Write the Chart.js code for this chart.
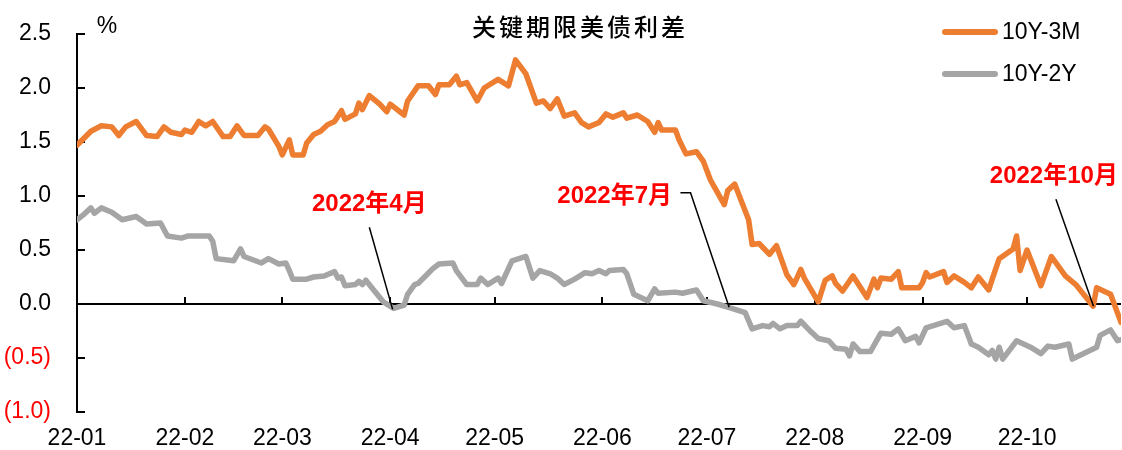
<!DOCTYPE html>
<html>
<head>
<meta charset="UTF-8" />
<title>关键期限美债利差</title>
<script src="https://cdn.jsdelivr.net/npm/chart.js@4/dist/chart.umd.min.js"></script>
<style>
  body { margin: 0; background: #fff; }
  canvas { display: block; }
</style>
</head>
<body>
<canvas id="chart" width="1122" height="450"></canvas>
<script>
// day = days since 2022-01-01
const monthStarts = [0, 31, 59, 90, 120, 151, 181, 212, 243, 273];
const monthLabels = ['22-01', '22-02', '22-03', '22-04', '22-05', '22-06', '22-07', '22-08', '22-09', '22-10'];

// 10Y-3M
const days3m = [
  0, 4, 7, 10, 12, 14, 17, 20, 23, 25,
  27, 30, 31, 33, 35, 37, 39, 42, 44, 46,
  48, 52, 54, 55, 58, 59, 61, 62, 65, 66,
  68, 70, 72, 74, 76, 77, 80, 81, 82, 84,
  87, 89, 90, 94, 95, 98, 101, 103, 104, 107,
  109, 110, 112, 115, 117, 121, 124, 126, 129, 132,
  134, 136, 138, 140, 143, 145, 147, 150, 152, 154,
  157, 158, 161, 164, 166, 167, 168, 172, 173, 175,
  178, 180, 182, 186, 187, 189, 193, 194, 196, 199,
  201, 204, 206, 208, 209, 213, 215, 217, 218, 220,
  223, 227, 229, 230, 231, 234, 236, 237, 242, 243,
  244, 245, 249, 250, 252, 255, 257, 259, 262, 263,
  265, 269, 270, 271, 273, 277, 280, 284, 287, 292,
  293, 297, 300
];
const spread3m = [
  1.47, 1.60, 1.65, 1.64, 1.56, 1.64, 1.69, 1.56, 1.55, 1.64,
  1.59, 1.57, 1.61, 1.59, 1.69, 1.65, 1.69, 1.55, 1.55, 1.65,
  1.56, 1.56, 1.64, 1.62, 1.46, 1.38, 1.52, 1.38, 1.38, 1.49,
  1.57, 1.60, 1.66, 1.69, 1.79, 1.71, 1.76, 1.86, 1.80, 1.93,
  1.85, 1.78, 1.85, 1.75, 1.88, 2.02, 2.02, 1.94, 2.03, 2.03,
  2.11, 2.03, 2.05, 1.88, 2.00, 2.08, 2.02, 2.26, 2.13, 1.86,
  1.88, 1.81, 1.90, 1.74, 1.77, 1.68, 1.64, 1.68, 1.76, 1.73,
  1.77, 1.72, 1.75, 1.69, 1.59, 1.68, 1.61, 1.61, 1.52, 1.39,
  1.41, 1.32, 1.15, 0.92, 1.05, 1.11, 0.78, 0.55, 0.56, 0.46,
  0.54, 0.27, 0.18, 0.32, 0.24, 0.02, 0.22, 0.26, 0.19, 0.12,
  0.26, 0.06, 0.23, 0.15, 0.24, 0.23, 0.30, 0.15, 0.15, 0.20,
  0.29, 0.25, 0.30, 0.20, 0.26, 0.20, 0.15, 0.25, 0.13, 0.23,
  0.42, 0.51, 0.63, 0.31, 0.50, 0.17, 0.44, 0.26, 0.18, -0.02,
  0.15, 0.09, -0.17
];

// 10Y-2Y
const days2y = [
  0, 2, 4, 5, 7, 10, 13, 17, 20, 24,
  26, 30, 32, 38, 39, 40, 45, 47, 48, 53,
  55, 58, 60, 61, 62, 66, 68, 71, 74, 75,
  76, 77, 80, 81, 82, 83, 86, 88, 91, 94,
  95, 97, 98, 102, 104, 108, 109, 112, 115, 116,
  118, 121, 122, 125, 129, 131, 133, 136, 138, 140,
  143, 146, 148, 150, 152, 153, 157, 158, 160, 164,
  166, 167, 172, 174, 178, 180, 184, 187, 192, 194,
  197, 199, 200, 202, 204, 207, 208, 211, 213, 216,
  218, 221, 222, 223, 225, 228, 231, 234, 236, 238,
  241, 242, 244, 247, 250, 252, 255, 257, 259, 262,
  263, 264, 265, 266, 270, 272, 274, 277, 279, 281,
  285, 286, 293, 294, 297, 299, 300
];
const spread2y = [
  0.78, 0.83, 0.89, 0.84, 0.89, 0.85, 0.78, 0.81, 0.74, 0.75,
  0.63, 0.61, 0.63, 0.63, 0.58, 0.42, 0.40, 0.51, 0.44, 0.38,
  0.42, 0.37, 0.38, 0.31, 0.23, 0.23, 0.25, 0.26, 0.30, 0.24,
  0.25, 0.17, 0.18, 0.21, 0.18, 0.22, 0.10, 0.02, -0.04, -0.01,
  0.09, 0.18, 0.19, 0.32, 0.37, 0.38, 0.31, 0.18, 0.18, 0.24,
  0.18, 0.24, 0.19, 0.40, 0.44, 0.24, 0.31, 0.28, 0.24, 0.18,
  0.23, 0.29, 0.28, 0.31, 0.28, 0.31, 0.32, 0.28, 0.09, 0.03,
  0.14, 0.10, 0.11, 0.10, 0.13, 0.03, 0.00, -0.03, -0.08, -0.23,
  -0.20, -0.21, -0.18, -0.23, -0.20, -0.20, -0.16, -0.26, -0.32, -0.34,
  -0.41, -0.42, -0.48, -0.37, -0.44, -0.44, -0.27, -0.28, -0.23, -0.34,
  -0.30, -0.36, -0.22, -0.19, -0.16, -0.22, -0.20, -0.37, -0.40, -0.47,
  -0.43, -0.51, -0.40, -0.51, -0.34, -0.37, -0.40, -0.46, -0.39, -0.40,
  -0.37, -0.51, -0.40, -0.29, -0.24, -0.34, -0.33
];

// callouts in data coords: text centre, leader line points
const callouts = [
  { text: '2022年4月', at: [84, 0.92], line: [[84, 0.71], [90.7, -0.05]] },
  { text: '2022年7月', at: [154.5, 1.00], line: [[173.4, 1.03], [176.3, 1.03], [187.4, -0.03]] },
  { text: '2022年10月', at: [280.7, 1.18], line: [[281.3, 0.97], [292.1, -0.02]] }
];

const ORANGE = '#ED7D31';
const GREY = '#A5A5A5';
const FONT = "'Liberation Sans', Arial, 'Noto Sans CJK SC', sans-serif";

function toPoints(xs, ys) {
  return xs.map((d, i) => ({ x: d, y: ys[i] }));
}

const decor = {
  id: 'decor',
  beforeDatasetsDraw(chart) {
    const { ctx, chartArea: a, scales: { x, y } } = chart;
    const y0 = Math.round(y.getPixelForValue(0));
    ctx.save();
    ctx.strokeStyle = '#000';
    ctx.lineWidth = 2;
    ctx.beginPath();
    ctx.moveTo(a.left, y0);
    ctx.lineTo(a.right, y0);
    // month ticks, pointing up from the zero line
    monthStarts.slice(1).forEach(d => {
      const px = Math.round(x.getPixelForValue(d));
      ctx.moveTo(px, y0);
      ctx.lineTo(px, y0 - 7);
    });
    // y ticks, pointing inside
    y.ticks.forEach(t => {
      const py = Math.round(y.getPixelForValue(t.value));
      ctx.moveTo(a.left, py);
      ctx.lineTo(a.left + 8, py);
    });
    ctx.stroke();
    ctx.restore();
  },
  afterDatasetsDraw(chart) {
    const { ctx, scales: { x, y } } = chart;
    ctx.save();

    // callouts
    callouts.forEach(c => {
      ctx.strokeStyle = '#000';
      ctx.lineWidth = 1.5;
      ctx.beginPath();
      c.line.forEach((p, i) => {
        const px = x.getPixelForValue(p[0]), py = y.getPixelForValue(p[1]);
        if (i === 0) ctx.moveTo(px, py); else ctx.lineTo(px, py);
      });
      ctx.stroke();
      ctx.fillStyle = '#FF0000';
      ctx.font = "bold 24px " + FONT;
      ctx.textAlign = 'center';
      ctx.textBaseline = 'middle';
      ctx.fillText(c.text, x.getPixelForValue(c.at[0]), y.getPixelForValue(c.at[1]));
    });

    // title
    ctx.fillStyle = '#000';
    ctx.font = "500 24px 'Noto Sans CJK SC', sans-serif";
    ctx.textAlign = 'center';
    ctx.textBaseline = 'middle';
    ctx.letterSpacing = '3px';
    ctx.fillText('关键期限美债利差', 580, 27);
    ctx.letterSpacing = '0px';

    // unit
    ctx.font = "23px " + FONT;
    ctx.fillText('%', 107, 27);

    // legend
    chart.data.datasets.forEach((ds, i) => {
      const ly = 32 + i * 42;
      ctx.strokeStyle = ds.borderColor;
      ctx.lineWidth = 6;
      ctx.lineCap = 'round';
      ctx.beginPath();
      ctx.moveTo(945, ly);
      ctx.lineTo(995, ly);
      ctx.stroke();
      ctx.fillStyle = '#000';
      ctx.textAlign = 'left';
      ctx.font = "23px " + FONT;
      ctx.fillText(ds.label, 1002, ly + 1);
    });
    ctx.restore();
  }
};

new Chart(document.getElementById('chart'), {
  type: 'line',
  data: {
    datasets: [
      { label: '10Y-3M', data: toPoints(days3m, spread3m), borderColor: ORANGE, borderWidth: 5.5 },
      { label: '10Y-2Y', data: toPoints(days2y, spread2y), borderColor: GREY, borderWidth: 5.5 }
    ]
  },
  options: {
    responsive: false,
    devicePixelRatio: 1,
    animation: false,
    layout: { autoPadding: false, padding: { top: 34, right: 1, left: 0, bottom: 0 } },
    elements: {
      point: { radius: 0 },
      line: { tension: 0, borderJoinStyle: 'round', borderCapStyle: 'round' }
    },
    plugins: { legend: { display: false }, title: { display: false }, tooltip: { enabled: false } },
    scales: {
      x: {
        type: 'linear',
        min: 0,
        max: 300,
        grid: { display: false },
        border: { display: false },
        afterBuildTicks: s => { s.ticks = monthStarts.map(v => ({ value: v })); },
        afterFit: s => { s.height = 38; },
        ticks: {
          autoSkip: false,
          maxRotation: 0,
          padding: 5,
          color: '#000',
          font: { family: FONT, size: 23 },
          callback: v => monthLabels[monthStarts.indexOf(v)]
        }
      },
      y: {
        min: -1,
        max: 2.5,
        // invisible tick marks only push labels away from the axis
        grid: { display: true, drawOnChartArea: false, drawTicks: true, tickLength: 22, tickColor: 'rgba(0,0,0,0)' },
        border: { display: true, color: '#000', width: 2 },
        afterFit: s => { s.width = 77; },
        ticks: {
          stepSize: 0.5,
          padding: 4,
          font: { family: FONT, size: 23 },
          color: c => (c.tick.value < 0 ? '#FF0000' : '#000'),
          callback: v => (v < 0 ? '(' + Math.abs(v).toFixed(1) + ')' : v.toFixed(1))
        }
      }
    }
  },
  plugins: [decor]
});
</script>
</body>
</html>
